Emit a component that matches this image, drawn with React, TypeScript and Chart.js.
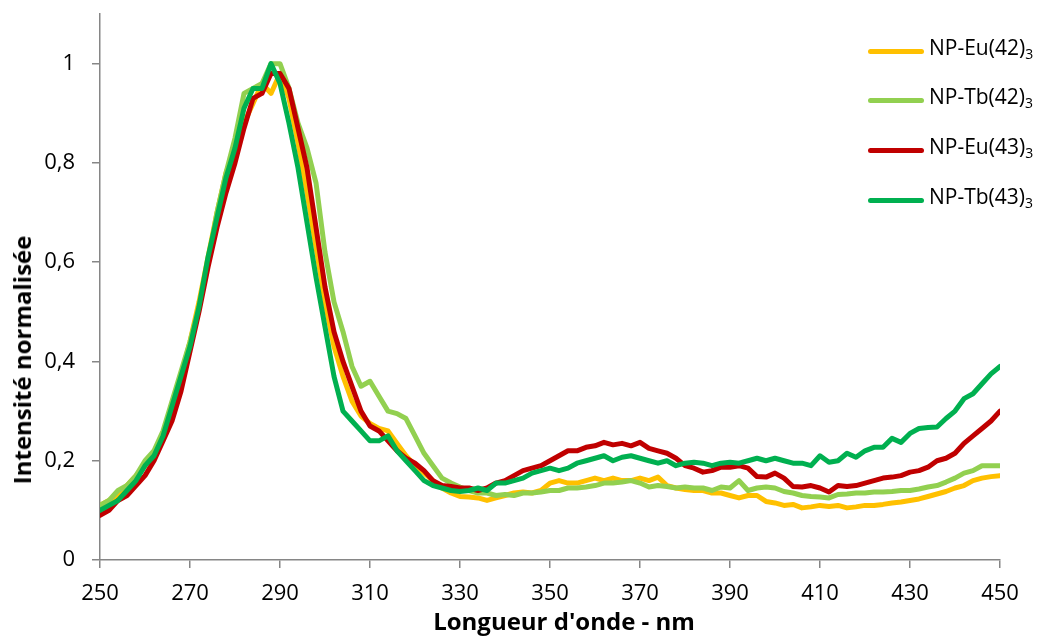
import React, { useEffect, useRef } from "react";
import { Chart, registerables } from "chart.js";

Chart.register(...registerables);

const wavelengths: number[] = [];
for (let w = 250; w <= 450; w += 2) wavelengths.push(w);

const seriesNames = ["NP-Eu(42)", "NP-Tb(42)", "NP-Eu(43)", "NP-Tb(43)"];
const seriesColors = ["#FFC000", "#92D050", "#C00000", "#00B050"];

const euro42 = [
  0.11, 0.12, 0.13, 0.15, 0.17, 0.19, 0.21, 0.25, 0.31, 0.37,
  0.44, 0.52, 0.61, 0.7, 0.78, 0.83, 0.88, 0.92, 0.96, 0.94,
  0.98, 0.93, 0.84, 0.74, 0.63, 0.52, 0.43, 0.37, 0.32, 0.29,
  0.275, 0.265, 0.26, 0.235, 0.21, 0.19, 0.175, 0.16, 0.145, 0.135,
  0.128, 0.127, 0.125, 0.12, 0.125, 0.13, 0.135, 0.137, 0.135, 0.14,
  0.155, 0.16, 0.155, 0.155, 0.16, 0.165, 0.16, 0.165, 0.16, 0.16,
  0.165, 0.16, 0.167, 0.15, 0.145, 0.142, 0.14, 0.14, 0.135, 0.135,
  0.13, 0.125, 0.13, 0.13, 0.118, 0.115, 0.11, 0.112, 0.105, 0.107,
  0.11, 0.108, 0.11, 0.105, 0.107, 0.11, 0.11, 0.112, 0.115, 0.117,
  0.12, 0.123, 0.128, 0.133, 0.138, 0.145, 0.15, 0.16, 0.165, 0.168,
  0.17,
];

const terb42 = [
  0.11, 0.12, 0.14, 0.15, 0.17, 0.2, 0.22, 0.26, 0.32, 0.38,
  0.44, 0.51, 0.6, 0.7, 0.78, 0.85, 0.94, 0.95, 0.96, 1.0,
  1.0, 0.95, 0.88, 0.83, 0.76, 0.62, 0.52, 0.46, 0.39, 0.35,
  0.36, 0.33, 0.3, 0.295, 0.285, 0.25, 0.215, 0.19, 0.165, 0.155,
  0.147, 0.14, 0.135, 0.135, 0.13, 0.132, 0.13, 0.135, 0.135, 0.137,
  0.14, 0.14, 0.145, 0.145, 0.147, 0.15, 0.155, 0.155, 0.157, 0.16,
  0.155, 0.147, 0.15, 0.148, 0.145, 0.147, 0.145, 0.145, 0.14, 0.147,
  0.145, 0.16, 0.14, 0.145, 0.147, 0.145, 0.138, 0.135, 0.13, 0.128,
  0.127, 0.125, 0.132, 0.133, 0.135, 0.135, 0.137, 0.137, 0.138, 0.14,
  0.14, 0.143, 0.147, 0.15, 0.157, 0.165, 0.175, 0.18, 0.19, 0.19,
  0.19,
];

const euro43 = [
  0.09, 0.1, 0.12, 0.13, 0.15, 0.17, 0.2, 0.24, 0.28, 0.34,
  0.42, 0.5, 0.59, 0.67, 0.74, 0.8, 0.87, 0.93, 0.94, 0.98,
  0.98, 0.95, 0.87, 0.79, 0.67, 0.55, 0.46, 0.4, 0.35, 0.3,
  0.27, 0.26, 0.24, 0.22, 0.205, 0.195, 0.18, 0.16, 0.15, 0.148,
  0.145, 0.145, 0.14, 0.145, 0.155, 0.16, 0.17, 0.18, 0.185, 0.19,
  0.2, 0.21, 0.22, 0.22, 0.227, 0.23, 0.237, 0.232, 0.235, 0.23,
  0.237, 0.225, 0.22, 0.215, 0.205, 0.19, 0.185, 0.177, 0.18, 0.187,
  0.187, 0.19, 0.185, 0.168, 0.167, 0.175, 0.165, 0.148, 0.147, 0.15,
  0.145, 0.137, 0.15, 0.148, 0.15, 0.155, 0.16, 0.165, 0.167, 0.17,
  0.177, 0.18, 0.187, 0.2, 0.205, 0.215, 0.235, 0.25, 0.265, 0.28,
  0.3,
];

const terb43 = [
  0.1, 0.11, 0.12, 0.14, 0.16, 0.19, 0.21, 0.25, 0.31, 0.37,
  0.43, 0.51, 0.61, 0.69, 0.77, 0.83, 0.91, 0.95, 0.95, 1.0,
  0.96, 0.88, 0.79, 0.68, 0.57, 0.47, 0.37, 0.3, 0.28, 0.26,
  0.24, 0.24, 0.25, 0.22, 0.2, 0.18, 0.16, 0.15, 0.145, 0.14,
  0.138, 0.14, 0.145, 0.14, 0.155, 0.155, 0.16, 0.165, 0.175, 0.18,
  0.185, 0.18, 0.185, 0.195, 0.2, 0.205, 0.21, 0.2, 0.207, 0.21,
  0.205, 0.2, 0.195, 0.2, 0.19, 0.195, 0.197, 0.195, 0.19, 0.195,
  0.197, 0.195, 0.2, 0.205, 0.2, 0.205, 0.2, 0.195, 0.195, 0.19,
  0.21, 0.197, 0.2, 0.215, 0.207, 0.22, 0.227, 0.227, 0.245, 0.237,
  0.255, 0.265, 0.267, 0.268, 0.285, 0.3, 0.325, 0.335, 0.355, 0.375,
  0.39,
];

const seriesValues = [euro42, terb42, euro43, terb43];

const xTickStep = 20;
const yTickStep = 0.2;

const FONT = "'Open Sans', 'Noto Sans', sans-serif";

export default function App() {
  const canvasRef = useRef<HTMLCanvasElement | null>(null);

  useEffect(() => {
    const canvas = canvasRef.current;
    if (!canvas) return;
    const datasets = seriesNames.map((name, i) => ({
      label: name,
      data: wavelengths.map((w, j) => ({ x: w, y: seriesValues[i][j] })),
      borderColor: seriesColors[i],
      backgroundColor: seriesColors[i],
      borderWidth: 5,
      pointRadius: 0,
      tension: 0,
      borderJoinStyle: "round" as const,
      borderCapStyle: "round" as const,
      order: 4 - i,
    }));
    const axisColor = "#868686";
    const chart = new Chart(canvas, {
      type: "line",
      data: { datasets },
      options: {
        animation: false,
        responsive: false,
        devicePixelRatio: 1,
        layout: { padding: { top: 14, right: 49, left: 0, bottom: 0 } },
        plugins: { legend: { display: false }, tooltip: { enabled: false } },
        scales: {
          x: {
            type: "linear",
            min: 250,
            max: 450,
            ticks: {
              stepSize: xTickStep,
              color: "#000",
              font: { family: FONT, size: 22 },
              padding: 13,
              maxRotation: 0,
            },
            grid: {
              display: true,
              drawOnChartArea: false,
              drawTicks: true,
              tickLength: 8,
              color: axisColor,
              lineWidth: 1.5,
            },
            border: { display: true, color: axisColor, width: 1.5 },
            afterFit: (scale: any) => {
              scale.height = 77;
            },
          },
          y: {
            type: "linear",
            min: 0,
            max: 1.1,
            ticks: {
              stepSize: yTickStep,
              color: "#000",
              font: { family: FONT, size: 22 },
              padding: 17,
              callback: (v: any) =>
                String(Number(Number(v).toFixed(1))).replace(".", ","),
            },
            afterBuildTicks: (scale: any) => {
              scale.ticks = scale.ticks.filter((t: any) => t.value <= 1.0001);
            },
            grid: {
              display: true,
              drawOnChartArea: false,
              drawTicks: true,
              tickLength: 8,
              color: axisColor,
              lineWidth: 1.5,
            },
            border: { display: true, color: axisColor, width: 1.5 },
            afterFit: (scale: any) => {
              scale.width = 100;
              scale.paddingTop = 0;
              scale.paddingBottom = 0;
            },
          },
        },
      },
    });
    return () => chart.destroy();
  }, []);

  const legendTops = [51, 100, 150, 200];

  return (
    <div
      style={{
        position: "fixed",
        left: 0,
        top: 0,
        width: 1049,
        height: 637,
        background: "#fff",
        fontFamily: FONT,
        color: "#000",
      }}
    >
      <canvas ref={canvasRef} width={1049} height={637} style={{ display: "block" }} />
      {seriesNames.map((name, i) => (
        <div
          key={name}
          style={{
            position: "absolute",
            left: 868,
            top: legendTops[i] - 15,
            height: 30,
            display: "flex",
            alignItems: "center",
            whiteSpace: "nowrap",
          }}
        >
          <div
            style={{
              width: 56,
              height: 5,
              borderRadius: 3,
              background: seriesColors[i],
            }}
          />
          <span style={{ marginLeft: 5, fontSize: 21, lineHeight: "30px" }}>
            {name}
            <sub style={{ fontSize: 14, verticalAlign: "-0.3em" }}>3</sub>
          </span>
        </div>
      ))}
      <div
        style={{
          position: "absolute",
          left: 22,
          top: 360,
          transform: "translate(-50%, -50%) rotate(-90deg)",
          fontWeight: 700,
          fontSize: 24,
          whiteSpace: "nowrap",
          lineHeight: "28px",
        }}
      >
        Intensité normalisée
      </div>
      <div
        style={{
          position: "absolute",
          left: 564,
          top: 621,
          transform: "translate(-50%, -50%)",
          fontWeight: 700,
          fontSize: 24,
          whiteSpace: "nowrap",
          lineHeight: "28px",
        }}
      >
        Longueur d'onde - nm
      </div>
    </div>
  );
}
